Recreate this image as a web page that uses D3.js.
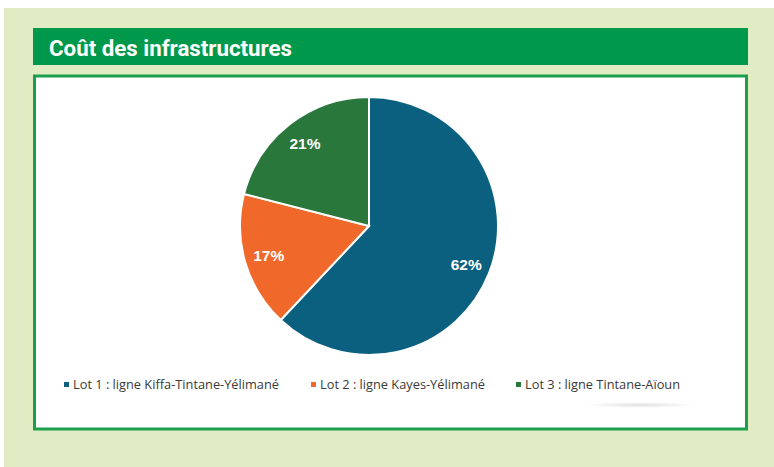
<!DOCTYPE html>
<html>
<head>
<meta charset="utf-8">
<script src="https://cdn.jsdelivr.net/npm/d3@7"></script>
<style>
  body { margin: 0; background: #fff; }
  svg { display: block; }
</style>
</head>
<body>
<div class="canvas"></div>
<script>
const lots = ['Lot 1 : ligne Kiffa-Tintane-Yélimané', 'Lot 2 : ligne Kayes-Yélimané', 'Lot 3 : ligne Tintane-Aïoun'];
const shares = [62, 17, 21];
const colours = ['#0b6080', '#f0692b', '#2a773b'];

const dims = { width: 774, height: 467, radius: 129 };
const cent = { x: 369, y: 226 };

const svg = d3.select('.canvas')
    .append('svg')
    .attr('width', dims.width)
    .attr('height', dims.height);

// page background
svg.append('rect')
    .attr('x', 4).attr('y', 8)
    .attr('width', dims.width - 4).attr('height', dims.height - 8)
    .attr('fill', '#e2ecc4');

// title banner
svg.append('rect')
    .attr('x', 33).attr('y', 28)
    .attr('width', 715).attr('height', 37)
    .attr('fill', '#00984a');

svg.append('text')
    .attr('x', 49).attr('y', 56)
    .attr('fill', '#fff')
    .attr('font-family', 'Roboto, "Liberation Sans Narrow", sans-serif')
    .attr('font-weight', 700)
    .attr('font-size', 22.5)
    .attr('textLength', 243)
    .attr('lengthAdjust', 'spacingAndGlyphs')
    .text('Coût des infrastructures');

// chart box
svg.append('rect')
    .attr('x', 34.5).attr('y', 76)
    .attr('width', 712).attr('height', 353)
    .attr('fill', '#fff')
    .attr('stroke', '#1c9f4c')
    .attr('stroke-width', 3);

// faint shadow under the legend
const defs = svg.append('defs');
const grad = defs.append('radialGradient').attr('id', 'shade');
grad.append('stop').attr('offset', '0%').attr('stop-color', '#000').attr('stop-opacity', 0.12);
grad.append('stop').attr('offset', '100%').attr('stop-color', '#000').attr('stop-opacity', 0);
svg.append('ellipse')
    .attr('cx', 640).attr('cy', 405)
    .attr('rx', 55).attr('ry', 3)
    .attr('fill', 'url(#shade)');

// pie
const data = lots.map((name, i) => ({ name, value: shares[i] }));

const colour = d3.scaleOrdinal()
    .domain(lots)
    .range(colours);

const pie = d3.pie()
    .sort(null)
    .value(d => d.value);

const arcPath = d3.arc()
    .outerRadius(dims.radius)
    .innerRadius(0);

const labelArc = d3.arc()
    .outerRadius(dims.radius * 0.81)
    .innerRadius(dims.radius * 0.81);

const graph = svg.append('g')
    .attr('transform', `translate(${cent.x},${cent.y})`);

graph.selectAll('path')
    .data(pie(data))
    .enter()
    .append('path')
    .attr('d', arcPath)
    .attr('fill', d => colour(d.data.name))
    .attr('stroke', '#fff')
    .attr('stroke-width', 2);

graph.selectAll('text')
    .data(pie(data))
    .enter()
    .append('text')
    .attr('transform', d => `translate(${labelArc.centroid(d)})`)
    .attr('text-anchor', 'middle')
    .attr('dy', '0.36em')
    .attr('fill', '#fff')
    .attr('font-family', 'Liberation Sans, Arial, sans-serif')
    .attr('font-weight', 700)
    .attr('font-size', 15.5)
    .text(d => d.data.value + '%');

// legend
const legendPos = [64, 311, 516];

const legend = svg.append('g')
    .attr('transform', 'translate(0, 385)');

const item = legend.selectAll('g')
    .data(lots)
    .enter()
    .append('g')
    .attr('transform', (d, i) => `translate(${legendPos[i]}, 0)`);

item.append('rect')
    .attr('x', 0).attr('y', -3)
    .attr('width', 5).attr('height', 5)
    .attr('fill', d => colour(d));

item.append('text')
    .attr('x', 9).attr('y', 0)
    .attr('dy', '0.35em')
    .attr('fill', '#3a3a3a')
    .attr('font-family', '"Open Sans", sans-serif')
    .attr('font-size', 12.8)
    .text(d => d);
</script>
</body>
</html>
